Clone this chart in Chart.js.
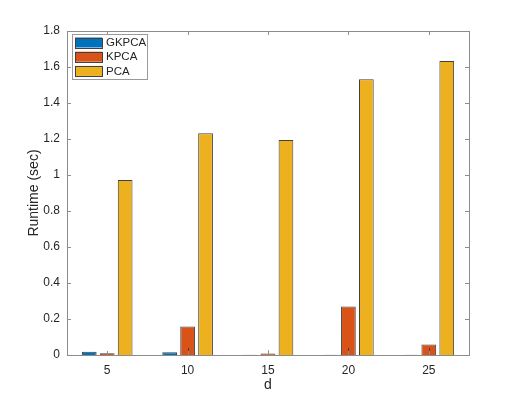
<!DOCTYPE html>
<html>
<head>
<meta charset="utf-8">
<script src="https://cdn.jsdelivr.net/npm/chart.js@4"></script>
<style>
  html, body { margin: 0; padding: 0; background: #fff; }
  canvas { display: block; }
</style>
</head>
<body>
<canvas id="runtime-chart" width="518" height="399"></canvas>
<script>
// Chart Data
const dValues = ['5', '10', '15', '20', '25'];
const gkpcaTimes = [0.018, 0.015, 0.002, 0.002, 0.002];
const kpcaTimes = [0.010, 0.158, 0.008, 0.270, 0.058];
const pcaTimes = [0.972, 1.232, 1.194, 1.532, 1.634];
// small error bars on KPCA (low / high)
const kpcaErrLow = [0.0, 0.0, 0.0, 0.0, 0.0];
const kpcaErrHigh = [0.022, 0.04, 0.025, 0.04, 0.04];
const yTicks = [0, 0.2, 0.4, 0.6, 0.8, 1, 1.2, 1.4, 1.6, 1.8];

const FONT = 'Liberation Sans, Arial, Helvetica, sans-serif';
const TEXT = '#262626';
const AXIS = '#8c8c8c';

const runtimeData = {
  labels: dValues,
  datasets: [
    { label: 'GKPCA', data: gkpcaTimes, backgroundColor: '#0072BD' },
    { label: 'KPCA', data: kpcaTimes, backgroundColor: '#D95319' },
    { label: 'PCA', data: pcaTimes, backgroundColor: '#EDB120' }
  ]
};
runtimeData.datasets.forEach(ds => {
  ds.borderColor = '#404040';
  ds.borderWidth = 1;
  ds.categoryPercentage = 0.67;
  ds.barPercentage = 0.82;
});

// box, inward ticks, error bars and legend, matlab style
const matlabAxes = {
  id: 'matlabAxes',
  afterDatasetsDraw(chart) {
    const { ctx, chartArea: a, scales: { x, y } } = chart;
    ctx.save();

    // error bars on KPCA
    const meta = chart.getDatasetMeta(1);
    ctx.strokeStyle = '#444';
    ctx.lineWidth = 1;
    meta.data.forEach((bar, i) => {
      const cx = Math.round(bar.x) + 0.5;
      ctx.beginPath();
      ctx.moveTo(cx, y.getPixelForValue(kpcaErrLow[i]));
      ctx.lineTo(cx, y.getPixelForValue(kpcaErrHigh[i]));
      ctx.stroke();
    });

    // box
    ctx.strokeStyle = AXIS;
    ctx.lineWidth = 1;
    ctx.strokeRect(Math.round(a.left) + 0.5, Math.round(a.top) + 0.5,
      Math.round(a.right - a.left), Math.round(a.bottom - a.top));

    // inward ticks
    const len = 4;
    ctx.beginPath();
    y.ticks.forEach((t, i) => {
      const py = Math.round(y.getPixelForTick(i)) + 0.5;
      ctx.moveTo(a.left, py); ctx.lineTo(a.left + len, py);
      ctx.moveTo(a.right, py); ctx.lineTo(a.right - len, py);
    });
    x.ticks.forEach((t, i) => {
      const px = Math.round(x.getPixelForTick(i)) + 0.5;
      ctx.moveTo(px, a.bottom); ctx.lineTo(px, a.bottom - len);
      ctx.moveTo(px, a.top); ctx.lineTo(px, a.top + len);
    });
    ctx.stroke();

    // legend (north-west, inside axes)
    const lx = 72, ly = 34, lw = 75, lh = 45;
    ctx.fillStyle = '#fff';
    ctx.fillRect(lx, ly, lw, lh);
    ctx.strokeStyle = '#9a9a9a';
    ctx.strokeRect(lx + 0.5, ly + 0.5, lw, lh);
    ctx.font = '11.5px ' + FONT;
    ctx.textBaseline = 'middle';
    chart.data.datasets.forEach((ds, i) => {
      const cy = ly + 8.5 + i * 14.2;
      ctx.fillStyle = ds.backgroundColor;
      ctx.fillRect(75, cy - 5, 27, 10);
      ctx.strokeStyle = '#404040';
      ctx.strokeRect(75.5, Math.round(cy - 5) + 0.5, 27, 10);
      ctx.fillStyle = TEXT;
      ctx.fillText(ds.label, 106, cy + 0.5);
    });
    ctx.restore();
  }
};

// Chart Options
const runtimeOptions = {
  responsive: false,
  animation: false,
  devicePixelRatio: 1,
  layout: { padding: { left: 0, right: 49, top: 31, bottom: 0 } },
  scales: {
    x: {
      grid: { display: false, drawTicks: false },
      border: { display: false },
      ticks: { color: TEXT, font: { family: FONT, size: 12 }, padding: 8 },
      title: { display: true, text: 'd', color: TEXT, font: { family: FONT, size: 14 }, padding: { top: 0, bottom: 5 } },
      afterFit: s => { s.height = 44; }
    },
    y: {
      min: 0,
      max: 1.8,
      afterBuildTicks: s => { s.ticks = yTicks.map(v => ({ value: v })); },
      grid: { display: false, drawTicks: false },
      border: { display: false },
      ticks: {
        color: TEXT,
        font: { family: FONT, size: 12 },
        padding: 7,
        callback: v => String(+v.toFixed(1))
      },
      title: { display: true, text: 'Runtime (sec)', color: TEXT, font: { family: FONT, size: 14 }, padding: { top: 26, bottom: 0 } },
      afterFit: s => { s.width = 67; }
    }
  },
  plugins: {
    legend: { display: false },
    tooltip: { enabled: false }
  }
};

// Chart Object
const runtimeChart = new Chart(document.getElementById('runtime-chart'), {
  type: 'bar',
  data: runtimeData,
  options: runtimeOptions,
  plugins: [matlabAxes]
});
</script>
</body>
</html>
